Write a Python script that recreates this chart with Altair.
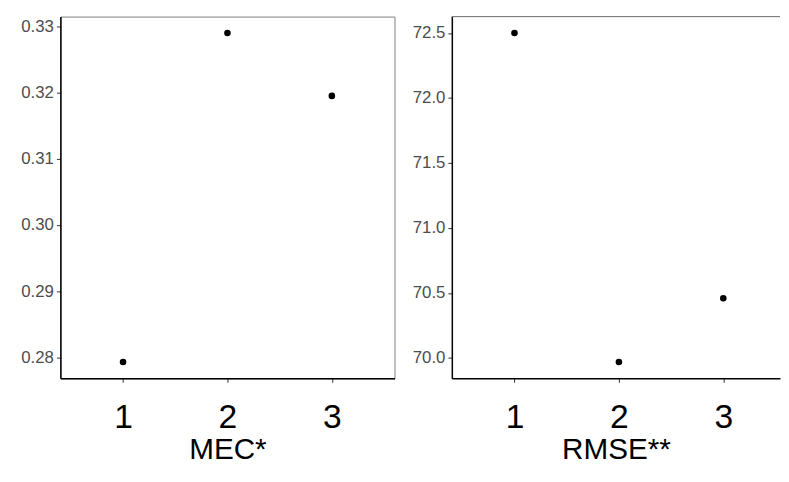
import altair as alt
import pandas as pd

groups = [1, 2, 3]
mec_values = [0.2793, 0.3290, 0.3195]
rmse_values = [72.50, 69.97, 70.46]
mec_ticks = [0.28, 0.29, 0.30, 0.31, 0.32, 0.33]
rmse_ticks = [70.0, 70.5, 71.0, 71.5, 72.0, 72.5]

FONT = "Liberation Sans"
UNIT = 338 / 3.2  # pixels per x unit, same in both panels


def panel(values, title, ticks, fmt, width, border):
    df = pd.DataFrame({"g": groups, "v": values})
    lo, hi = min(values), max(values)
    pad = 0.05 * (hi - lo)
    x = alt.X(
        "g:Q",
        scale=alt.Scale(domain=[0.4, 0.4 + width / UNIT], nice=False, zero=False),
        axis=alt.Axis(
            values=groups, format="d", title=title,
            labelFontSize=34, labelColor="black", labelPadding=19,
            titleFontSize=30, titleFontWeight="normal", titleColor="black",
            titlePadding=0,
        ),
    )
    y = alt.Y(
        "v:Q",
        scale=alt.Scale(domain=[lo - pad, hi + pad], nice=False, zero=False),
        axis=alt.Axis(values=ticks, format=fmt, title=None,
                      labelFontSize=17, labelColor="#4d4d4d", labelPadding=3),
    )
    pts = alt.Chart(df).mark_point(filled=True, color="black", size=44, opacity=1).encode(
        x=x, y=y
    )
    if border:
        return pts.properties(width=width, height=366)
    top = alt.Chart(df).mark_rule(color="#7f7f7f", strokeWidth=1).encode(
        x=alt.value(0), x2=alt.value(width), y=alt.value(0)
    )
    return alt.layer(pts, top).properties(
        width=width, height=366, view=alt.ViewBackground(strokeOpacity=0)
    )


left = panel(mec_values, "MEC*", mec_ticks, ".2f", 338, True)
right = panel(rmse_values, "RMSE**", rmse_ticks, ".1f", 332, False)

chart = alt.hconcat(left, right, spacing=16).properties(
    padding={"left": 12, "top": 5, "right": 0, "bottom": 0}
).configure_view(
    stroke="#7f7f7f", strokeWidth=1
).configure_axis(
    labelFont=FONT, titleFont=FONT, grid=False,
    domainColor="black", domainWidth=1.5,
    tickColor="#333333", tickSize=4, tickWidth=1,
)

chart.save("out.html", embed_options={"renderer": "svg", "actions": False})
